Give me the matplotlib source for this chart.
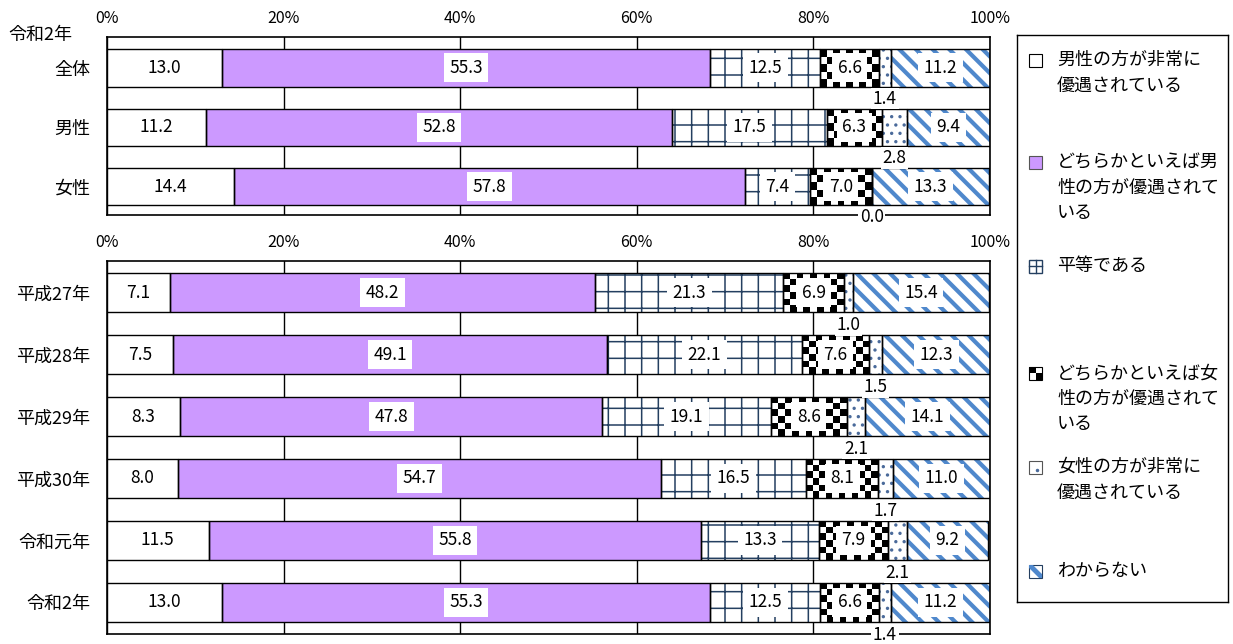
import numpy as np
import matplotlib
matplotlib.use('Agg')
import matplotlib.pyplot as plt
from matplotlib.patches import Rectangle
from matplotlib.lines import Line2D

plt.rcParams['font.family'] = ['Noto Sans CJK JP', 'DejaVu Sans']

# 回答区分
categories = ['男性の方が非常に\n優遇されている',
              'どちらかといえば男\n性の方が優遇されて\nいる',
              '平等である',
              'どちらかといえば女\n性の方が優遇されて\nいる',
              '女性の方が非常に\n優遇されている',
              'わからない']

# 令和2年 性別
top_groups = ['全体', '男性', '女性']
top_values = [[13.0, 55.3, 12.5, 6.6, 1.4, 11.2],
              [11.2, 52.8, 17.5, 6.3, 2.8, 9.4],
              [14.4, 57.8, 7.4, 7.0, 0.0, 13.3]]

# 年次推移
year_groups = ['平成27年', '平成28年', '平成29年', '平成30年', '令和元年', '令和2年']
year_values = [[7.1, 48.2, 21.3, 6.9, 1.0, 15.4],
               [7.5, 49.1, 22.1, 7.6, 1.5, 12.3],
               [8.3, 47.8, 19.1, 8.6, 2.1, 14.1],
               [8.0, 54.7, 16.5, 8.1, 1.7, 11.0],
               [11.5, 55.8, 13.3, 7.9, 2.1, 9.2],
               [13.0, 55.3, 12.5, 6.6, 1.4, 11.2]]

tick_vals = [0, 20, 40, 60, 80, 100]

PURPLE = '#CC99FF'
NAVY = '#243F60'
BLUE = '#4F88CC'
DOTC = '#4A6A9A'

FS_NUM = 12.5
FS_LAB = 13

# 区分ごとの塗り方
styles = [
    dict(face='white', hatch=None, hcolor='black', hlw=1.0),
    dict(face=PURPLE, hatch=None, hcolor=PURPLE, hlw=1.0),
    dict(face='white', hatch='+', hcolor=NAVY, hlw=1.1),
    dict(face='white', hatch=None, hcolor='black', hlw=1.0, checker=True),
    dict(face='white', hatch='..', hcolor=DOTC, hlw=1.2),
    dict(face='white', hatch='\\\\', hcolor=BLUE, hlw=3.0),
]

box = dict(boxstyle='square,pad=0.32', fc='white', ec='none')


def draw_panel(fig, ax, groups, values, ylim):
    vals = np.array(values)
    lefts = np.cumsum(vals, axis=1) - vals
    y = np.arange(len(groups))
    h = 0.63
    ax.set_xlim(0, 100)
    ax.set_ylim(*ylim)
    fig.canvas.draw()
    for j, st in enumerate(styles):
        plt.rcParams['hatch.linewidth'] = st['hlw']
        bars = ax.barh(y, vals[:, j], left=lefts[:, j], height=h,
                       color=st['face'], edgecolor=st['hcolor'],
                       hatch=st['hatch'], linewidth=0, zorder=2)
        for p in bars:
            if st['hatch'] and hasattr(p, 'set_hatch_linewidth'):
                p.set_hatch_linewidth(st['hlw'])
            if st.get('checker') and p.get_width() > 0:
                x0, w = p.get_x(), p.get_width()
                y0, hh = p.get_y(), p.get_height()
                pa = ax.transData.transform([(x0, y0), (x0 + w, y0 + hh)])
                nx = max(1, int(round(abs(pa[1, 0] - pa[0, 0]) / 6.8)))
                ny = max(1, int(round(abs(pa[1, 1] - pa[0, 1]) / 6.8)))
                arr = np.add.outer(np.arange(ny), np.arange(nx)) % 2
                im = ax.imshow(arr, cmap='gray', extent=(x0, x0 + w, y0 + hh, y0),
                               interpolation='nearest', aspect='auto', zorder=2.5)
                im.set_clip_path(p)
        ax.barh(y, vals[:, j], left=lefts[:, j], height=h, fill=False,
                edgecolor='black', linewidth=1.0, zorder=3)
    ax.set_xlim(0, 100)
    ax.set_ylim(*ylim)

    for i in range(len(groups)):
        for j in range(6):
            cx = lefts[i, j] + vals[i, j] / 2
            txt = f'{vals[i, j]:.1f}'
            if j == 4:
                ax.text(cx, y[i] + 0.52, txt, ha='center', va='center', fontsize=FS_NUM,
                        zorder=6, clip_on=False,
                        bbox=dict(boxstyle='square,pad=0.1', fc='white', ec='none'))
            elif j == 0:
                ax.text(cx, y[i], txt, ha='center', va='center', fontsize=FS_NUM, zorder=5)
            else:
                ax.text(cx, y[i], txt, ha='center', va='center', fontsize=FS_NUM, zorder=5,
                        bbox=box)

    ax.set_xticks(tick_vals)
    ax.set_xticklabels([f'{t}%' for t in tick_vals], fontsize=11.5)
    ax.xaxis.tick_top()
    ax.set_yticks(y)
    ax.set_yticklabels(groups, fontsize=FS_LAB)
    ax.tick_params(axis='x', length=0, pad=7)
    ax.tick_params(axis='y', length=0, pad=12)
    ax.grid(axis='x', color='black', linewidth=1.0)
    ax.set_axisbelow(True)
    for s in ax.spines.values():
        s.set_linewidth(1.2)
        s.set_zorder(4)


fig = plt.figure(figsize=(12.33, 6.44), dpi=100)
ax_top = fig.add_axes([0.0868, 0.6661, 0.7161, 0.2764])
ax_bot = fig.add_axes([0.0868, 0.0155, 0.7161, 0.5792])

draw_panel(fig, ax_top, top_groups, top_values, (2.48, -0.52))
draw_panel(fig, ax_bot, year_groups, year_values, (5.51, -0.51))

fig.text(8 / 1233, 1 - 35 / 644, '令和2年', fontsize=FS_LAB, ha='left', va='center')

# 凡例
ax_leg = fig.add_axes([1017 / 1233, 1 - 602 / 644, 211 / 1233, 567 / 644])
ax_leg.set_xlim(0, 211)
ax_leg.set_ylim(567, 0)
ax_leg.set_xticks([])
ax_leg.set_yticks([])
for s in ax_leg.spines.values():
    s.set_linewidth(1.0)

item_y = [25, 127, 231, 338, 432, 536]
hx, hs = 12, 13
for k, (lab, yy) in enumerate(zip(categories, item_y)):
    top = yy - hs / 2
    if k == 0:
        ax_leg.add_patch(Rectangle((hx, top), hs, hs, fc='white', ec='black', lw=0.8))
    elif k == 1:
        ax_leg.add_patch(Rectangle((hx, top), hs, hs, fc=PURPLE, ec='#555555', lw=0.8))
    elif k == 2:
        ax_leg.add_patch(Rectangle((hx, top), hs, hs, fc='white', ec=NAVY, lw=1.0))
        ax_leg.add_line(Line2D([hx, hx + hs], [yy, yy], color=NAVY, lw=1.0))
        ax_leg.add_line(Line2D([hx + hs / 2] * 2, [top, top + hs], color=NAVY, lw=1.0))
    elif k == 3:
        ax_leg.add_patch(Rectangle((hx, top), hs, hs, fc='white', ec='black', lw=0.8))
        ax_leg.add_patch(Rectangle((hx, top), hs / 2, hs / 2, fc='black', ec='none'))
        ax_leg.add_patch(Rectangle((hx + hs / 2, top + hs / 2), hs / 2, hs / 2, fc='black', ec='none'))
    elif k == 4:
        ax_leg.add_patch(Rectangle((hx, top), hs, hs, fc='white', ec='#555555', lw=0.8))
        ax_leg.plot([hx + hs * 0.6], [top + hs * 0.7], 'o', ms=1.5, color=DOTC)
    else:
        r = Rectangle((hx, top), hs, hs, fc='white', ec=NAVY, lw=0.8)
        ax_leg.add_patch(r)
        ln = Line2D([hx, hx + hs], [top, top + hs], color=BLUE, lw=3.5)
        ax_leg.add_line(ln)
        ln.set_clip_path(r)
    for m, line in enumerate(lab.split('\n')):
        ax_leg.text(40, yy + m * 25.5, line, fontsize=FS_LAB, ha='left', va='center')

fig.savefig('out.png', dpi=100)
